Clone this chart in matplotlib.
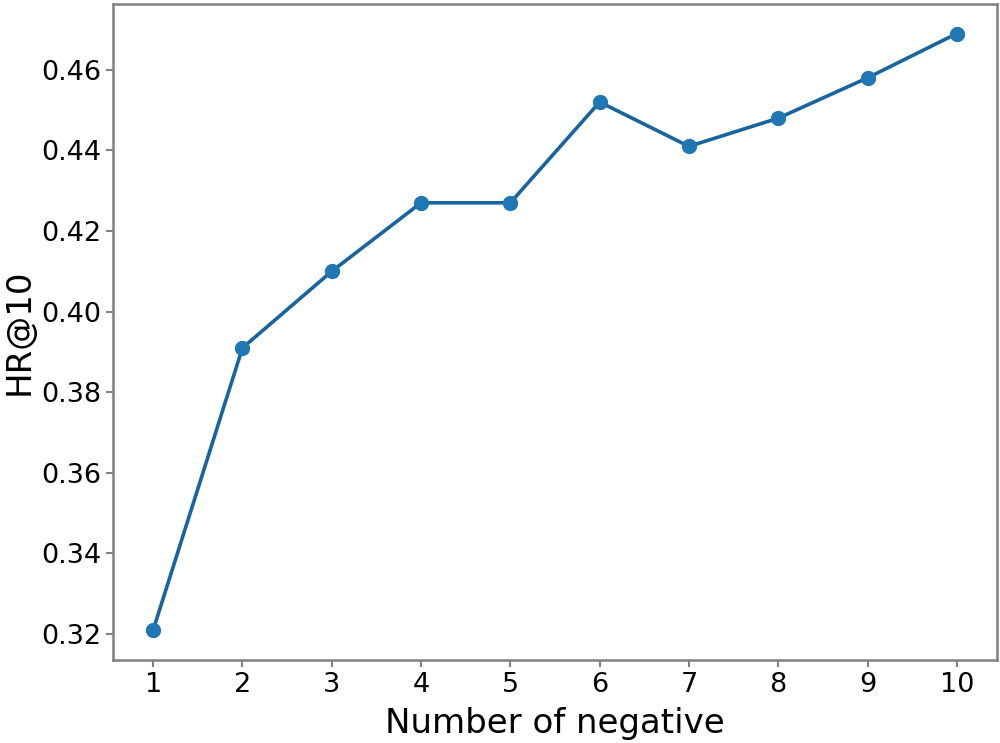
import matplotlib
matplotlib.use("Agg")
import matplotlib.pyplot as plt

num_negative = [1, 2, 3, 4, 5, 6, 7, 8, 9, 10]
hr_at_10 = [0.321, 0.391, 0.410, 0.427, 0.427, 0.452, 0.441, 0.448, 0.458, 0.469]

fig = plt.figure(figsize=(10, 7.43), dpi=100)
ax = fig.add_axes([0.113, 0.112, 0.884, 0.883])

ax.plot(num_negative, hr_at_10, color='#17649f', linewidth=2.6,
        marker='o', markersize=10, markerfacecolor='#1f77b4',
        markeredgecolor='#1f77b4')

ax.set_xticks(num_negative)
ax.set_yticks([0.32, 0.34, 0.36, 0.38, 0.40, 0.42, 0.44, 0.46])
ax.set_xlabel('Number of negative', fontsize=24.5, labelpad=7)
ax.set_ylabel('HR@10', fontsize=24.5)
ax.tick_params(labelsize=19.5, length=5, width=1.5, color='#808080')
for s in ax.spines.values():
    s.set_color('#808080')
    s.set_linewidth(1.8)

fig.savefig('out.png', dpi=100)
